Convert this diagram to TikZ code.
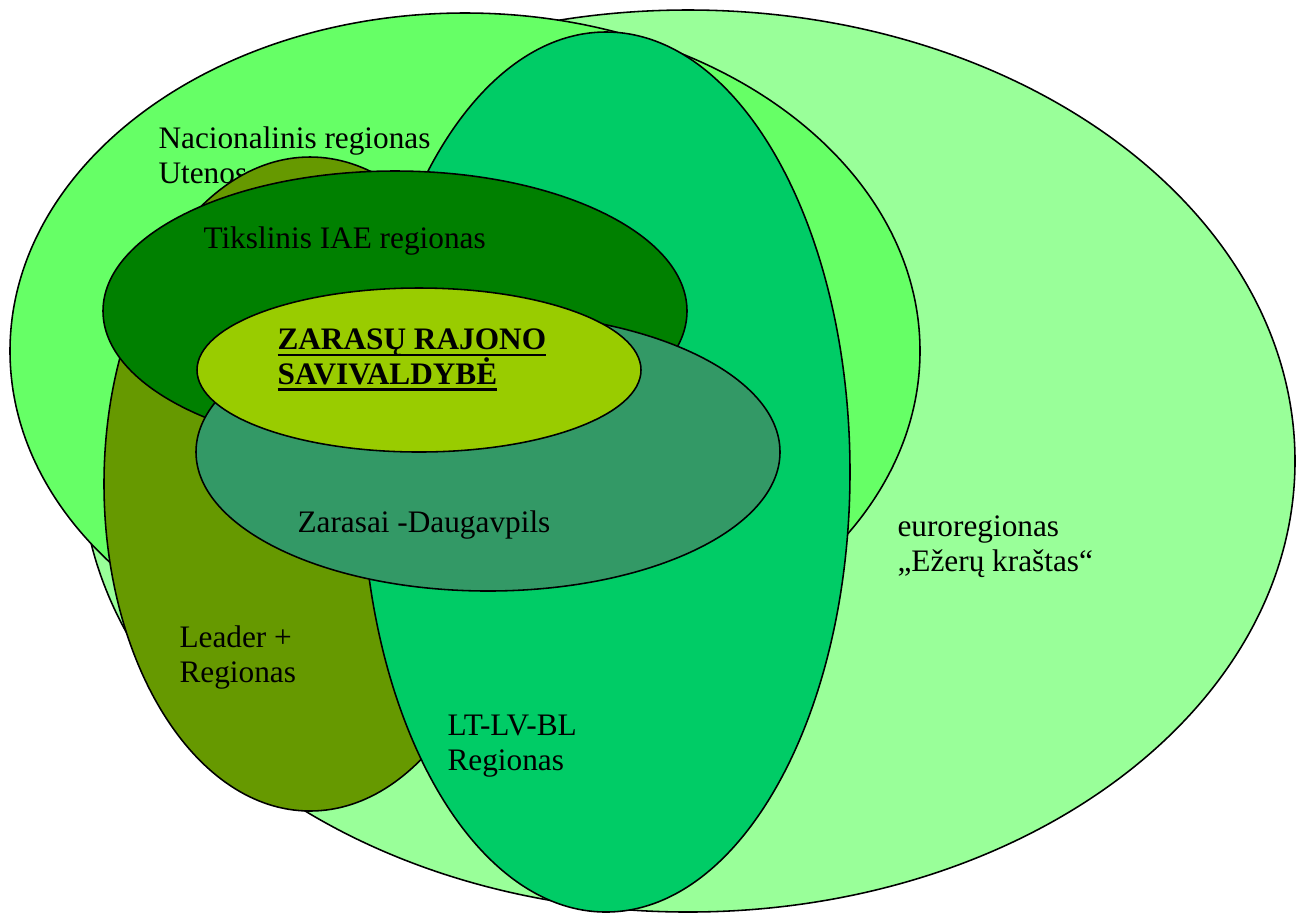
\documentclass[tikz,border=0pt]{standalone}
\usepackage{fontspec}
\setmainfont{Liberation Serif}
\usepackage{tikz}

\definecolor{euroFill}{HTML}{99FF99}
\definecolor{nacFill}{HTML}{66FF66}
\definecolor{leaderFill}{HTML}{669900}
\definecolor{ltlvFill}{HTML}{00CC66}
\definecolor{iaeFill}{HTML}{008000}
\definecolor{zdFill}{HTML}{339966}
\definecolor{zrsFill}{HTML}{99CC00}

% underline with a fixed depth
\newcommand{\ulbold}[1]{\setbox0\hbox{#1}\rlap{\rule[-2.8pt]{\wd0}{1.1pt}}\box0}

\begin{document}
\begin{tikzpicture}[
                x=0.3835pt, y=-0.3835pt,
                region/.style={draw=black, line width=0.6pt},
                label/.style={anchor=base west, align=left, inner sep=0pt,
                              font=\fontsize{12}{13.4}\selectfont}
            ]

            \useasboundingbox (0,0) rectangle (1303,913);

            % Euroregionas (base = last line)
            \draw[region, fill=euroFill] (688,461) ellipse [x radius=607, y radius=451];
            \node[label] (euro-label) at (897,571) {euroregionas\\„Ežerų kraštas“};

            % Nacionalinis regionas
            \draw[region, fill=nacFill] (465,351) ellipse [x radius=455, y radius=338];
            \node[label] (nac-label) at (158,183) {Nacionalinis regionas\\Utenos};

            % Leader + regionas
            \draw[region, fill=leaderFill] (310,484) ellipse [x radius=206, y radius=327];
            \node[label] (leader-label) at (179,682) {Leader +\\Regionas};

            % LT-LV-BL regionas
            \draw[region, fill=ltlvFill] (606,472) ellipse [x radius=244, y radius=440];
            \node[label] (ltlv-label) at (447,770) {LT-LV-BL\\Regionas};

            % Tikslinis IAE regionas
            \draw[region, fill=iaeFill] (395,311) ellipse [x radius=292, y radius=140];
            \node[label] (iae-label) at (203,248) {Tikslinis IAE regionas};

            % Zarasai - Daugavpils
            \draw[region, fill=zdFill] (488,452) ellipse [x radius=292, y radius=139];
            \node[label] (zd-label) at (297,532) {Zarasai -Daugavpils};

            % Savivaldybe
            \draw[region, fill=zrsFill] (419,370) ellipse [x radius=222, y radius=82];
            \node[label, font=\fontsize{12}{13.4}\selectfont\bfseries] (zrs-label) at (277,384)
                {\ulbold{ZARASŲ RAJONO}\\\ulbold{SAVIVALDYBĖ}};

        \end{tikzpicture}
\end{document}
